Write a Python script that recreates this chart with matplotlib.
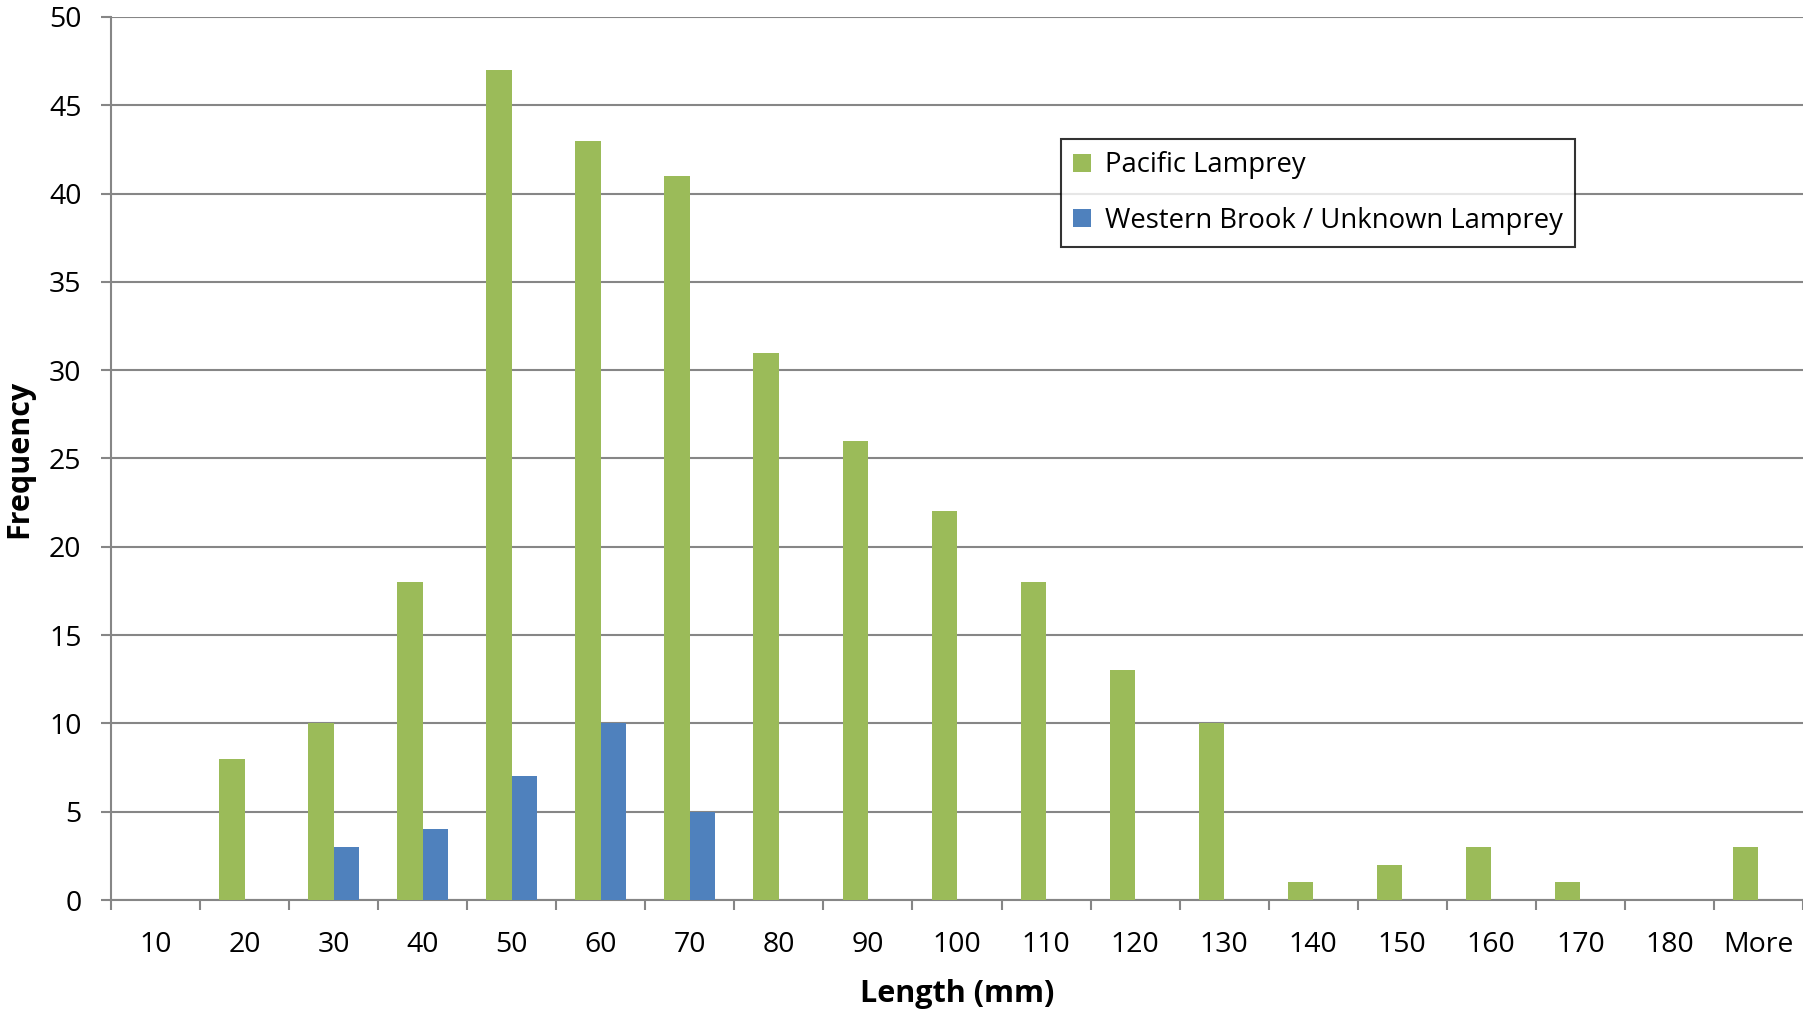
import numpy as np
import matplotlib
matplotlib.use('Agg')
import matplotlib.pyplot as plt

categories = ['10', '20', '30', '40', '50', '60', '70', '80', '90', '100',
              '110', '120', '130', '140', '150', '160', '170', '180', 'More']
pacific = [0, 8, 10, 18, 47, 43, 41, 31, 26, 22, 18, 13, 10, 1, 2, 3, 1, 0, 3]
western = [0, 0, 3, 4, 7, 10, 5, 0, 0, 0, 0, 0, 0, 0, 0, 0, 0, 0, 0]

plt.rcParams['font.family'] = ['Open Sans', 'DejaVu Sans']

W, H = 1803, 1013
fig = plt.figure(figsize=(W / 100, H / 100), dpi=100)
ax = fig.add_axes([111 / W, (H - 900) / H, (W - 111) / W, (900 - 17) / H])

grid_col = '#868686'
x = np.arange(len(categories))
bw = 1 / 3.5
ax.bar(x - bw / 2, pacific, bw, color='#9BBB59', label='Pacific Lamprey', zorder=3)
ax.bar(x + bw / 2, western, bw, color='#4F81BD', label='Western Brook / Unknown Lamprey', zorder=3)

ax.set_xlim(-0.5, len(categories) - 0.5)
ax.set_ylim(0, 50)
ax.set_yticks(range(0, 51, 5))
ax.yaxis.grid(True, color=grid_col, linewidth=1.5, zorder=0)
ax.tick_params(axis='y', length=7.2, width=1.5, color=grid_col, labelsize=20.5, pad=14)

# tick marks between categories, labels centred under each group
ax.set_xticks(np.arange(len(categories) + 1) - 0.5)
ax.set_xticklabels([])
ax.set_xticks(x, minor=True)
ax.set_xticklabels(categories, minor=True)
ax.tick_params(axis='x', which='major', length=7.2, width=1.5, color=grid_col)
ax.tick_params(axis='x', which='minor', length=0, labelsize=20.5, pad=22)

for s in ['top', 'right']:
    ax.spines[s].set_visible(False)
for s in ['left', 'bottom']:
    ax.spines[s].set_color(grid_col)
    ax.spines[s].set_linewidth(1.5)

ax.set_xlabel('Length (mm)', fontsize=22, fontweight='bold', labelpad=14.5)
ax.set_ylabel('Frequency', fontsize=22, fontweight='bold', labelpad=10.5)

leg = ax.legend(loc='upper left', bbox_to_anchor=((1061 - 111) / (W - 111), 1 - (139 - 17) / (900 - 17)),
                fontsize=19.8, frameon=True, fancybox=False, edgecolor='black',
                handlelength=0.65, handleheight=0.65, handletextpad=0.5,
                labelspacing=1.0, borderpad=0.45, borderaxespad=0)
leg.get_frame().set_linewidth(1.5)

fig.savefig('out.png', dpi=100)
